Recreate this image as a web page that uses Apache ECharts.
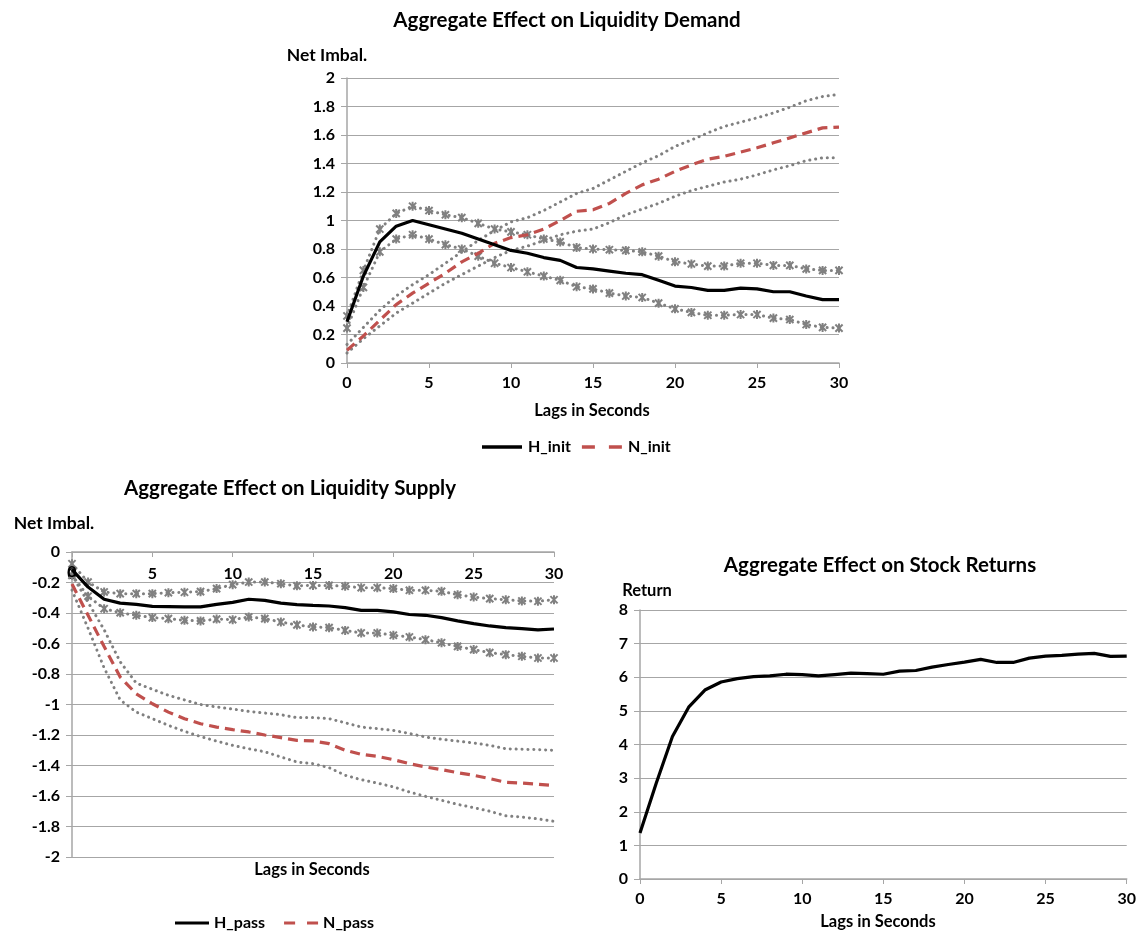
<!DOCTYPE html>
<html>
<head>
<meta charset="utf-8">
<script src="https://cdn.jsdelivr.net/npm/echarts@6/dist/echarts.min.js"></script>
<style>
html, body { margin: 0; padding: 0; background: #fff; }
#main { width: 1139px; height: 933px; }
</style>
</head>
<body>
<div id="main"></div>
<script>
// lags in seconds
var lags = [0,1,2,3,4,5,6,7,8,9,10,11,12,13,14,15,16,17,18,19,20,21,22,23,24,25,26,27,28,29,30];

// liquidity demand
var hInit   = [0.29,0.61,0.85,0.96,1.00,0.97,0.94,0.91,0.87,0.83,0.79,0.77,0.74,0.72,0.67,0.66,0.645,0.63,0.62,0.58,0.54,0.53,0.51,0.51,0.525,0.52,0.50,0.50,0.47,0.445,0.445];
var hInitHi = [0.33,0.65,0.94,1.05,1.10,1.07,1.04,1.02,0.98,0.94,0.92,0.90,0.87,0.85,0.81,0.80,0.795,0.79,0.78,0.75,0.71,0.695,0.68,0.68,0.70,0.70,0.685,0.685,0.66,0.65,0.65];
var hInitLo = [0.245,0.53,0.78,0.87,0.90,0.87,0.83,0.80,0.75,0.70,0.67,0.64,0.61,0.58,0.535,0.52,0.49,0.47,0.46,0.42,0.38,0.355,0.335,0.335,0.34,0.34,0.315,0.305,0.27,0.25,0.245];
var nInit   = [0.09,0.19,0.30,0.41,0.49,0.56,0.63,0.71,0.77,0.84,0.88,0.90,0.94,1.00,1.065,1.075,1.12,1.19,1.25,1.29,1.345,1.39,1.43,1.45,1.48,1.51,1.545,1.58,1.615,1.65,1.655];
var nInitHi = [0.13,0.25,0.37,0.47,0.55,0.62,0.70,0.78,0.86,0.93,0.99,1.02,1.07,1.13,1.19,1.225,1.285,1.345,1.405,1.455,1.52,1.565,1.615,1.66,1.69,1.72,1.755,1.795,1.84,1.87,1.885];
var nInitLo = [0.07,0.17,0.26,0.35,0.42,0.49,0.56,0.62,0.68,0.74,0.79,0.82,0.86,0.90,0.925,0.94,0.985,1.04,1.08,1.12,1.17,1.21,1.24,1.27,1.29,1.32,1.355,1.385,1.42,1.44,1.44];

// liquidity supply
var hPass   = [-0.116,-0.23,-0.31,-0.335,-0.343,-0.356,-0.358,-0.36,-0.36,-0.343,-0.33,-0.31,-0.317,-0.335,-0.345,-0.35,-0.354,-0.365,-0.383,-0.383,-0.393,-0.41,-0.415,-0.43,-0.452,-0.47,-0.485,-0.496,-0.503,-0.511,-0.505];
var hPassHi = [-0.077,-0.197,-0.262,-0.273,-0.273,-0.273,-0.267,-0.264,-0.26,-0.24,-0.214,-0.197,-0.197,-0.208,-0.222,-0.219,-0.219,-0.225,-0.234,-0.234,-0.24,-0.251,-0.251,-0.258,-0.28,-0.295,-0.306,-0.313,-0.321,-0.323,-0.313];
var hPassLo = [-0.153,-0.29,-0.372,-0.398,-0.415,-0.43,-0.437,-0.448,-0.452,-0.44,-0.444,-0.426,-0.437,-0.459,-0.478,-0.492,-0.496,-0.514,-0.531,-0.531,-0.546,-0.557,-0.575,-0.595,-0.619,-0.64,-0.66,-0.673,-0.684,-0.695,-0.695];
var nPass   = [-0.21,-0.415,-0.62,-0.82,-0.93,-0.995,-1.05,-1.093,-1.126,-1.148,-1.165,-1.18,-1.2,-1.217,-1.235,-1.239,-1.257,-1.3,-1.327,-1.34,-1.362,-1.388,-1.41,-1.427,-1.447,-1.464,-1.486,-1.51,-1.515,-1.523,-1.532];
var nPassHi = [-0.15,-0.33,-0.51,-0.72,-0.86,-0.90,-0.94,-0.97,-1.0,-1.016,-1.03,-1.045,-1.056,-1.067,-1.086,-1.086,-1.093,-1.12,-1.148,-1.158,-1.17,-1.19,-1.213,-1.228,-1.24,-1.252,-1.268,-1.29,-1.294,-1.296,-1.30];
var nPassLo = [-0.25,-0.50,-0.76,-0.97,-1.05,-1.093,-1.137,-1.176,-1.21,-1.24,-1.268,-1.29,-1.31,-1.344,-1.377,-1.388,-1.414,-1.464,-1.493,-1.515,-1.54,-1.574,-1.602,-1.628,-1.655,-1.676,-1.7,-1.73,-1.738,-1.75,-1.766];

// stock returns
var ret = [1.37,2.85,4.24,5.11,5.62,5.86,5.96,6.02,6.04,6.09,6.08,6.04,6.08,6.12,6.11,6.09,6.18,6.2,6.3,6.38,6.45,6.53,6.44,6.44,6.57,6.63,6.65,6.69,6.71,6.62,6.63];

var FONT = 'Lato';
var GRIDC = '#a6a6a6';
var GREY = '#808080';
var RED = '#c0504d';
var STAR = 'path://M5,0L5,10M1,1L9,9M1,9L9,1';
var ICON_SOLID = 'path://M0,0H40V3.5H0Z';
var ICON_DASH = 'path://M0,0H13V3.5H0ZM27,0H40V3.5H27Z';

function pairs(vals) {
    return vals.map(function (v, i) { return [lags[i], v]; });
}

function mainLine(name, vals, idx, color, dashed) {
    return {
        name: name, type: 'line', xAxisIndex: idx, yAxisIndex: idx,
        data: pairs(vals), showSymbol: false, symbol: 'none', z: 5,
        lineStyle: { color: color, width: 3.2, type: dashed ? [10, 6] : 'solid' },
        itemStyle: { color: color }
    };
}

function band(name, vals, idx, star) {
    var s = {
        name: name, type: 'line', xAxisIndex: idx, yAxisIndex: idx,
        data: pairs(vals), z: 3,
        lineStyle: { color: GREY, width: 3, type: [0.1, 5.8], cap: 'round' },
        itemStyle: { color: GREY }
    };
    if (star) {
        s.symbol = STAR;
        s.symbolSize = 9;
        s.symbolKeepAspect = true;
        s.itemStyle = { color: GREY, borderColor: GREY, borderWidth: 2 };
    } else {
        s.symbol = 'none';
    }
    return s;
}

var tickFont = { color: '#000', fontFamily: FONT, fontWeight: 'bold', fontSize: 16 };

function xAx(idx, top) {
    return {
        type: 'value', gridIndex: idx, min: 0, max: 30, interval: 5,
        position: top ? 'top' : 'bottom',
        axisLine: { onZero: false, lineStyle: { color: GRIDC, width: 1.5 } },
        axisTick: { show: true, inside: !!top, length: 5, lineStyle: { color: GRIDC } },
        axisLabel: Object.assign({ margin: top ? 14 : 12, inside: !!top, showMinLabel: true, showMaxLabel: true }, tickFont),
        splitLine: { show: false }
    };
}

function yAx(idx, min, max, interval) {
    return {
        type: 'value', gridIndex: idx, min: min, max: max, interval: interval,
        axisLine: { show: true, onZero: false, lineStyle: { color: GRIDC, width: 1.5 } },
        axisTick: { show: true, length: 6, lineStyle: { color: GRIDC } },
        axisLabel: Object.assign({ margin: 12 }, tickFont),
        splitLine: { show: true, lineStyle: { color: GRIDC, width: 1.2 } }
    };
}

function label(text, x, y, size) {
    return {
        type: 'text', x: x, y: y, z: 10,
        style: { text: text, fill: '#000', font: 'bold ' + size + 'px ' + FONT, textAlign: 'center', textVerticalAlign: 'middle' }
    };
}

var legendText = { color: '#000', fontFamily: FONT, fontWeight: 'bold', fontSize: 16 };

var chart = echarts.init(document.getElementById('main'));
chart.setOption({
    animation: false,
    backgroundColor: '#fff',
    grid: [
        { left: 347, top: 78, width: 492, height: 285 },
        { left: 72, top: 552, width: 482, height: 305 },
        { left: 640, top: 610, width: 488, height: 269 }
    ],
    xAxis: [xAx(0, false), xAx(1, true), xAx(2, false)],
    yAxis: [yAx(0, 0, 2, 0.2), yAx(1, -2, 0, 0.2), yAx(2, 0, 8, 1)],
    legend: [
        {
            data: [{ name: 'H_init', icon: ICON_SOLID }, { name: 'N_init', icon: ICON_DASH }],
            left: 477, top: 434, itemWidth: 42, itemHeight: 3.5, itemGap: 11, textStyle: legendText
        },
        {
            data: [{ name: 'H_pass', icon: ICON_SOLID }, { name: 'N_pass', icon: ICON_DASH }],
            left: 170, top: 910, itemWidth: 34, itemHeight: 3.5, itemGap: 19, textStyle: legendText
        }
    ],
    graphic: [
        label('Aggregate Effect on Liquidity Demand', 567, 20, 20.5),
        label('Net Imbal.', 327, 55, 17.5),
        label('Lags in Seconds', 592, 411, 16.5),
        label('Aggregate Effect on Liquidity Supply', 290, 488, 20.5),
        label('Net Imbal.', 54, 523, 17.5),
        label('0', 72, 572, 16),
        label('Lags in Seconds', 312, 870, 16.5),
        label('Aggregate Effect on Stock Returns', 880, 565, 20.5),
        label('Return', 647, 591, 16.5),
        label('Lags in Seconds', 878, 922, 16.5)
    ],
    series: [
        band('H_init hi', hInitHi, 0, true),
        band('H_init lo', hInitLo, 0, true),
        band('N_init hi', nInitHi, 0, false),
        band('N_init lo', nInitLo, 0, false),
        mainLine('N_init', nInit, 0, RED, true),
        mainLine('H_init', hInit, 0, '#000', false),

        band('H_pass hi', hPassHi, 1, true),
        band('H_pass lo', hPassLo, 1, true),
        band('N_pass hi', nPassHi, 1, false),
        band('N_pass lo', nPassLo, 1, false),
        mainLine('N_pass', nPass, 1, RED, true),
        mainLine('H_pass', hPass, 1, '#000', false),

        mainLine('Return', ret, 2, '#000', false)
    ]
});
</script>
</body>
</html>
